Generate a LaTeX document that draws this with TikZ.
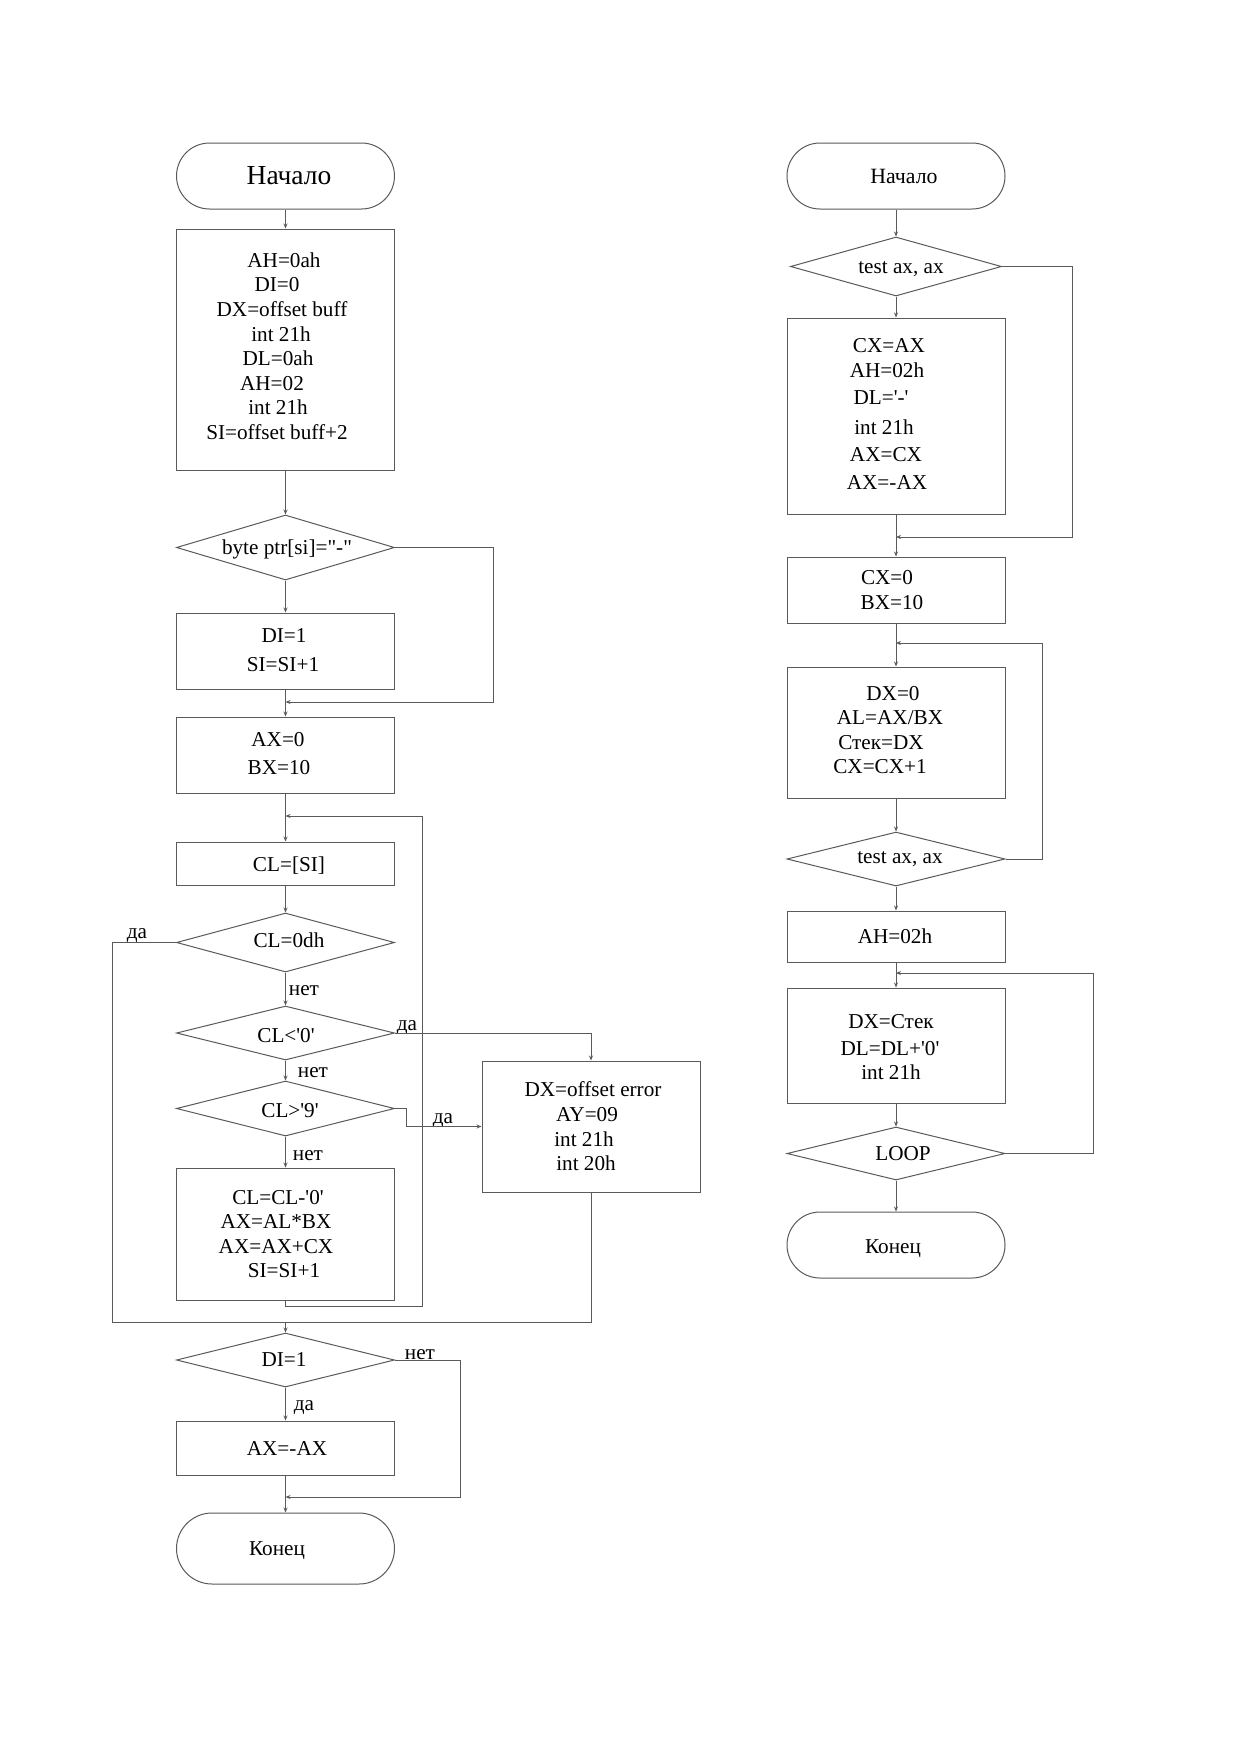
\documentclass[tikz,border=0pt]{standalone}
\usepackage{fontspec}
\setmainfont{Liberation Serif}
\usetikzlibrary{shapes.geometric,shapes.misc,arrows.meta}
\definecolor{linec}{RGB}{90,90,90}
\newcommand\myln[2]{\hbox{\kern#1pt\hbox to 0pt{\hss#2\hss}\kern-#1pt}}
\newcommand\qs{\textquotesingle}
\newcommand\up[1]{\vrule height0pt depth#1pt width0pt}
\newcommand\dn[1]{\vrule height#1pt depth0pt width0pt}
\begin{document}
\begin{tikzpicture}[x=1pt,y=-1pt,
  every node/.style={font=\fontsize{21.2}{24.6}\selectfont, text=black},
  proc/.style={draw=linec, line width=1pt, rectangle, minimum width=218pt, inner sep=0pt, align=center},
  dec/.style={draw=linec, line width=1pt, diamond, minimum width=218pt, inner sep=0pt, align=center},
  term/.style={draw=linec, line width=1pt, rounded rectangle, minimum width=218pt, inner sep=0pt, align=center},
  lab/.style={inner sep=0pt},
  conn/.style={draw=linec, line width=1pt},
  arr/.style={conn, -{Stealth[length=5pt,width=4pt]}}
]
\fill[white] (0,0) rectangle (1233,1751);
\useasboundingbox (0,0) rectangle (1233,1751);

% ---------------- left chart ----------------
\node[term, minimum height=66pt] (L0) at (285.5,176) {\myln{3.5}{\fontsize{27.5}{30}\selectfont Начало}};
\node[proc, minimum height=241pt] (L1) at (285.5,349.5) {\myln{-1.5}{AH=0ah}\\ \myln{-8.5}{DI=0}\\ \myln{-3.5}{DX=offset buff}\\ \myln{-4.5}{int 21h}\\ \myln{-7.5}{DL=0ah}\\ \myln{-13.5}{AH=02}\\ \myln{-7.5}{int 21h}\\ \myln{-8.5}{SI=offset buff+2}\up{7}};
\node[dec, minimum height=65pt] (LD1) at (285.5,547.5) {\dn{19}\myln{1.5}{byte ptr[si]=\textquotedbl-\textquotedbl}};
\node[proc, minimum height=76pt] (L2) at (285.5,651) {\myln{-1.5}{DI=1}\\[4.4pt] \myln{-2.5}{SI=SI+1}\up{2}};
\node[proc, minimum height=76pt] (L3) at (285.5,755) {\myln{-7.5}{AX=0}\\[3.4pt] \myln{-6.5}{BX=10}\up{4}};
\node[proc, minimum height=43pt] (L4) at (285.5,863.5) {\dn{19}\myln{3.5}{CL=[SI]}};
\node[dec, minimum height=59pt] (LD2) at (285.5,942.5) {\myln{3.5}{CL=0dh}\up{4}};
\node[dec, minimum height=54pt] (LD3) at (285.5,1033) {\dn{18.5}\myln{0.5}{CL<\qs0\qs}};
\node[dec, minimum height=55pt] (LD4) at (285.5,1108.5) {\dn{18.5}\myln{4.5}{CL>\qs9\qs}};
\node[proc, minimum height=132pt] (L5) at (285.5,1234) {\myln{-7.5}{CL=CL-\qs0\qs}\\ \myln{-9.5}{AX=AL*BX}\\ \myln{-9.5}{AX=AX+CX}\\ \myln{-1.5}{SI=SI+1}};
\node[proc, minimum height=131pt] (LE) at (591,1126.5) {\myln{2}{DX=offset error}\\ \myln{-4}{AY=09}\\ \myln{-7}{int 21h}\\ \myln{-5}{int 20h}};
\node[dec, minimum height=54pt] (LD5) at (285.5,1360) {\myln{-1.5}{DI=1}};
\node[proc, minimum height=54pt] (L6) at (285.5,1448) {\myln{1.5}{AX=-AX}};
\node[term, minimum height=71pt] (L7) at (285.5,1548.5) {\dn{18.5}\myln{-8.5}{Конец}};

\node[lab] (ya1) at (137,936) {да};
\node[lab] (na1) at (304,991) {нет};
\node[lab] (ya2) at (407,1028) {да};
\node[lab] (na2) at (313,1073) {нет};
\node[lab] (ya3) at (443,1121) {да};
\node[lab] (na3) at (308,1156) {нет};
\node[lab] (na4) at (420,1355) {нет};
\node[lab] (ya4) at (304,1408) {да};

\coordinate (c1) at (493,702);
\coordinate (m1) at (285.5,702);
\coordinate (c2) at (422,1306);
\coordinate (m2) at (285.5,816);
\coordinate (c4) at (112,1322);
\coordinate (m3) at (285.5,1322);
\coordinate (c5) at (406,1108.5);
\coordinate (c6) at (460,1497);
\coordinate (m4) at (285.5,1497);

\draw[arr] (L0.south) -- (L1.north);
\draw[arr] (L1.south) -- (LD1.north);
\draw[arr] (LD1.south) -- (L2.north);
\draw[arr] (L2.south) -- (L3.north);
\draw[arr] (LD1.east) -| (c1) -- (m1);
\draw[arr] (L3.south) -- (L4.north);
\draw[arr] (L5.south) |- (c2) |- (m2);
\draw[arr] (L4.south) -- (LD2.north);
\draw[arr] (LD2.south) -- (LD3.north);
\draw[arr] (LD3.south) -- (LD4.north);
\draw[arr] (LD4.south) -- (L5.north);
\draw[conn] (LD2.west) -| (c4) -- (LE.south |- c4) -- (LE.south);
\draw[arr] (LD3.east) -| (LE.north);
\draw[arr] (LD4.east) -- (c5) |- (LE.west);
\draw[arr] (m3) -- (LD5.north);
\draw[arr] (LD5.south) -- (L6.north);
\draw[arr] (LD5.east) -| (c6) -- (m4);
\draw[arr] (L6.south) -- (L7.north);

% ---------------- right chart ----------------
\node[term, minimum height=66pt] (R0) at (896,176) {\myln{8}{\fontsize{21.8}{24.6}\selectfont Начало}};
\node[dec, minimum width=211pt, minimum height=59pt] (RD1) at (896,266.5) {\dn{17}\myln{5}{test ax, ax}};
\node[proc, minimum height=196pt] (R1) at (896,416) {\myln{-7}{CX=AX}\\[0.4pt] \myln{-9}{AH=02h}\\[2.4pt] \myln{-15}{DL=\qs-\qs}\\[5.4pt] \myln{-12}{int 21h}\\[2.4pt] \myln{-10}{AX=CX}\\[3.4pt] \myln{-9}{AX=-AX}\up{5}};
\node[proc, minimum height=66pt] (R2) at (896,590) {\myln{-9}{CX=0}\\ \myln{-4}{BX=10}};
\node[proc, minimum height=131pt] (R3) at (896,732.5) {\myln{-3}{DX=0}\\ \myln{-6}{AL=AX/BX}\\ \myln{-15}{Стек=DX}\\ \myln{-16}{CX=CX+1}\up{5}};
\node[dec, minimum height=54pt] (RD2) at (896,859) {\myln{4}{test ax, ax}};
\node[proc, minimum height=51pt] (R4) at (896,936.5) {\myln{-1}{AH=02h}};
\node[proc, minimum height=115pt] (R5) at (896,1045.5) {\dn{17.5}\myln{-5}{DX=Стек}\\[2.4pt] \myln{-6}{DL=DL+\qs0\qs}\\ \myln{-5}{int 21h}};
\node[dec, minimum height=53pt] (RD3) at (896,1153.5) {\myln{7}{LOOP}};
\node[term, minimum height=66pt] (R6) at (896,1245) {\dn{20.5}\myln{-3}{Конец}};

\coordinate (c7) at (1072,537);
\coordinate (m5) at (896,537);
\coordinate (c8) at (1042,643);
\coordinate (m6) at (896,643);
\coordinate (c9) at (1093,973);
\coordinate (m7) at (896,973);

\draw[arr] (R0.south) -- (RD1.north);
\draw[arr] (RD1.south) -- (R1.north);
\draw[arr] (RD1.east) -| (c7) -- (m5);
\draw[arr] (R1.south) -- (R2.north);
\draw[arr] (R2.south) -- (R3.north);
\draw[arr] (RD2.east) -| (c8) -- (m6);
\draw[arr] (R3.south) -- (RD2.north);
\draw[arr] (RD2.south) -- (R4.north);
\draw[arr] (R4.south) -- (R5.north);
\draw[arr] (RD3.east) -| (c9) -- (m7);
\draw[arr] (R5.south) -- (RD3.north);
\draw[arr] (RD3.south) -- (R6.north);
\end{tikzpicture}
\end{document}
